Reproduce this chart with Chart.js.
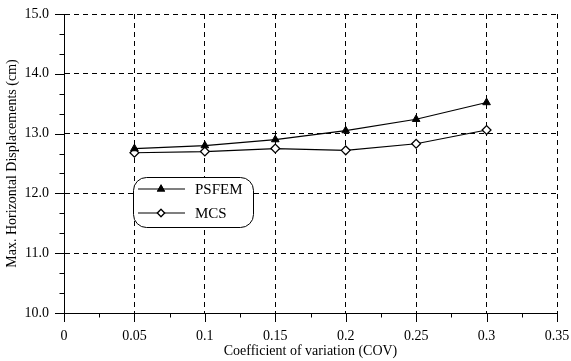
<!DOCTYPE html>
<html>
<head>
<meta charset="utf-8">
<script src="https://cdn.jsdelivr.net/npm/chart.js@4/dist/chart.umd.min.js"></script>
<style>
  html, body { margin: 0; padding: 0; background: #fff; }
  #c { display: block; }
</style>
</head>
<body>
<canvas id="c" width="571" height="361"></canvas>
<script>
// Coefficient of variation and max. horizontal displacement (cm)
const cov = [0.05, 0.1, 0.15, 0.2, 0.25, 0.3];
const psfem = [12.75, 12.80, 12.90, 13.05, 13.24, 13.52];
const mcs = [12.68, 12.70, 12.75, 12.72, 12.83, 13.06];

// Major tick values on each axis
const xTicks = [0, 0.05, 0.1, 0.15, 0.2, 0.25, 0.3, 0.35];
const yTicks = [10, 11, 12, 13, 14, 15];
const xMinorDiv = 2;   // minor subdivisions per major step
const yMinorDiv = 3;

const FONT = "'Liberation Serif', 'Times New Roman', serif";

// Builds major + minor tick objects for a scale
function buildTicks(majors, div) {
  const out = [];
  for (let i = 0; i < majors.length; i++) {
    out.push({ value: majors[i], minor: false });
    if (i < majors.length - 1) {
      const step = (majors[i + 1] - majors[i]) / div;
      for (let k = 1; k < div; k++) out.push({ value: majors[i] + k * step, minor: true });
    }
  }
  return out;
}

function xLabel(v) { return String(+v.toFixed(3)); }
function yLabel(v) { return v.toFixed(1); }

// Outward tick marks (long for major, short for minor)
const tickMarks = {
  id: 'tickMarks',
  afterDraw(chart) {
    const { ctx } = chart;
    const xs = chart.scales.x, ys = chart.scales.y;
    ctx.save();
    ctx.strokeStyle = '#000';
    ctx.lineWidth = 1;
    ctx.setLineDash([]);
    ctx.beginPath();
    xs.ticks.forEach(t => {
      const px = Math.round(xs.getPixelForValue(t.value)) + 0.5;
      const y0 = Math.round(ys.bottom);
      ctx.moveTo(px, y0);
      ctx.lineTo(px, y0 + (t.minor ? 4.5 : 9));
    });
    ys.ticks.forEach(t => {
      const py = Math.round(ys.getPixelForValue(t.value)) + 0.5;
      const x0 = Math.round(xs.left);
      ctx.moveTo(x0, py);
      ctx.lineTo(x0 - (t.minor ? 4.5 : 9), py);
    });
    ctx.stroke();
    ctx.restore();
  }
};

// Rounded-box legend with line + marker samples
const boxLegend = {
  id: 'boxLegend',
  afterDraw(chart) {
    const { ctx, chartArea } = chart;
    const bx = chartArea.left + 69, by = chartArea.top + 163, bw = 120, bh = 50, r = 13;
    ctx.save();
    ctx.fillStyle = '#fff';
    ctx.strokeStyle = '#000';
    ctx.lineWidth = 1;
    ctx.beginPath();
    ctx.roundRect(bx + 0.5, by + 0.5, bw, bh, r);
    ctx.fill();
    ctx.stroke();
    chart.data.datasets.forEach((ds, i) => {
      const y = by + 12 + i * 24;
      ctx.beginPath();
      ctx.lineWidth = 1.2;
      ctx.moveTo(bx + 5, y);
      ctx.lineTo(bx + 52, y);
      ctx.stroke();
      Chart.helpers.drawPoint(ctx, {
        pointStyle: ds.pointStyle,
        radius: ds.pointRadius - 0.8,
        borderWidth: 1.2
      }, bx + 28, y);
      ctx.fillStyle = ds.pointBackgroundColor;
      ctx.fill();
      ctx.stroke();
      ctx.fillStyle = '#000';
      ctx.font = '15px ' + FONT;
      ctx.textBaseline = 'middle';
      ctx.fillText(ds.label, bx + 62, y + 1);
    });
    ctx.restore();
  }
};

new Chart(document.getElementById('c'), {
  type: 'line',
  data: {
    datasets: [
      {
        label: 'PSFEM',
        data: cov.map((x, i) => ({ x, y: psfem[i] })),
        borderColor: '#000',
        borderWidth: 1.2,
        pointStyle: 'triangle',
        pointRadius: 4.4,
        pointBackgroundColor: '#000',
        pointBorderColor: '#000',
        pointBorderWidth: 1,
        tension: 0
      },
      {
        label: 'MCS',
        data: cov.map((x, i) => ({ x, y: mcs[i] })),
        borderColor: '#000',
        borderWidth: 1.2,
        pointStyle: 'rectRot',
        pointRadius: 4.4,
        pointBackgroundColor: '#fff',
        pointBorderColor: '#000',
        pointBorderWidth: 1.3,
        tension: 0
      }
    ]
  },
  options: {
    responsive: false,
    animation: false,
    devicePixelRatio: 1,
    layout: { padding: { top: 14, right: 14, left: 0, bottom: 0 } },
    plugins: { legend: { display: false }, tooltip: { enabled: false } },
    scales: {
      x: {
        type: 'linear',
        min: 0,
        max: 0.35,
        afterBuildTicks: s => { s.ticks = buildTicks(xTicks, xMinorDiv); },
        afterFit: s => { s.height = 48; s.paddingLeft = 0; s.paddingRight = 0; },
        grid: {
          drawTicks: false,
          color: c => (c.tick && c.tick.minor) ? 'rgba(0,0,0,0)' : '#000',
          lineWidth: 1
        },
        border: { display: true, color: '#000', width: 1, dash: [5, 4] },
        ticks: {
          autoSkip: false,
          maxRotation: 0,
          padding: 15,
          color: '#000',
          font: { family: FONT, size: 14 },
          callback: (v, i, ts) => ts[i].minor ? '' : xLabel(v)
        },
        title: {
          display: true,
          text: 'Coefficient of variation (COV)',
          color: '#000',
          font: { family: FONT, size: 14 },
          padding: { top: 0, bottom: 1 }
        }
      },
      y: {
        type: 'linear',
        min: 10,
        max: 15,
        afterBuildTicks: s => { s.ticks = buildTicks(yTicks, yMinorDiv); },
        afterFit: s => { s.width = 64; s.paddingTop = 0; s.paddingBottom = 0; },
        grid: {
          drawTicks: false,
          color: c => (c.tick && c.tick.minor) ? 'rgba(0,0,0,0)' : '#000',
          lineWidth: 1
        },
        border: { display: true, color: '#000', width: 1, dash: [5, 4] },
        ticks: {
          autoSkip: false,
          padding: 15,
          color: '#000',
          font: { family: FONT, size: 14 },
          callback: (v, i, ts) => ts[i].minor ? '' : yLabel(v)
        },
        title: {
          display: true,
          text: 'Max. Horizontal Displacements (cm)',
          color: '#000',
          font: { family: FONT, size: 14 },
          padding: { top: 4, bottom: 0 }
        }
      }
    }
  },
  plugins: [tickMarks, boxLegend]
});
</script>
</body>
</html>
